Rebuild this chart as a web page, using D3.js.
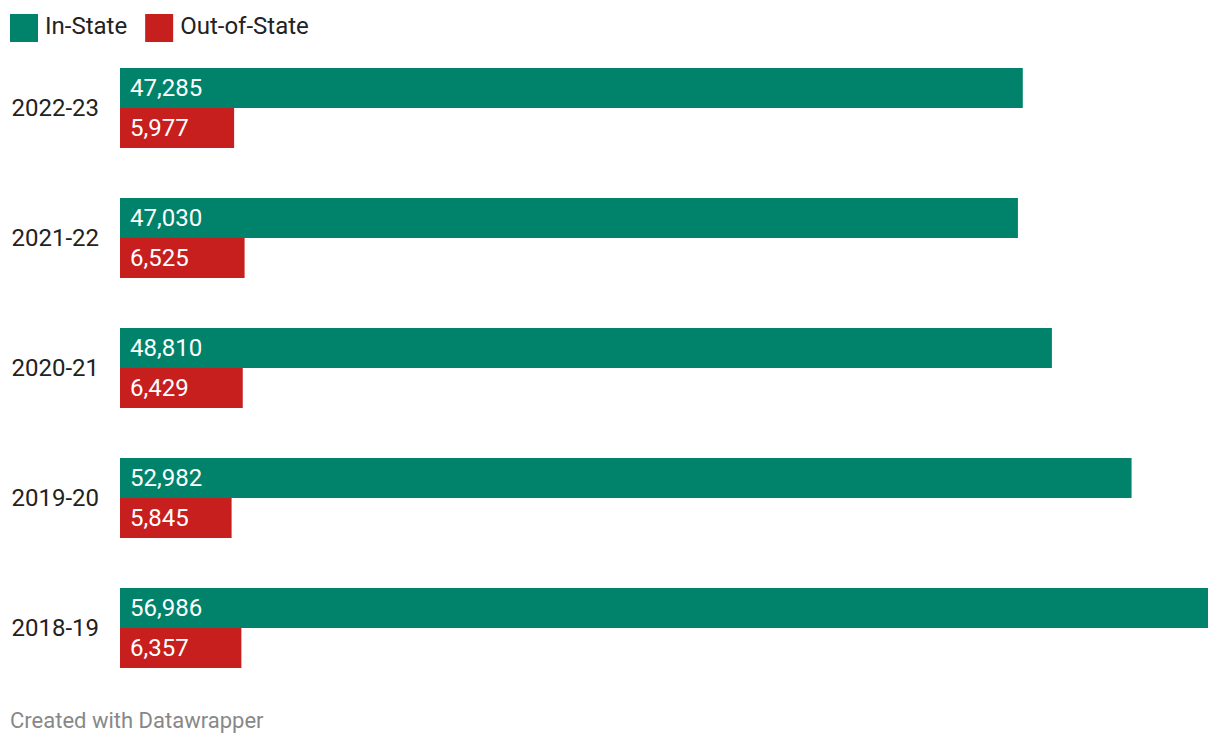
<!DOCTYPE html>
<html><head><meta charset="utf-8">
<script src="https://cdn.jsdelivr.net/npm/d3@7"></script>
<style>body{margin:0;background:#fff;font-family:Roboto,sans-serif;}</style>
</head><body>
<svg id="c" width="1220" height="746"></svg>
<script>
const years = ["2022-23","2021-22","2020-21","2019-20","2018-19"];
const inState = [47285,47030,48810,52982,56986];
const outState = [5977,6525,6429,5845,6357];
const seriesNames = ["In-State","Out-of-State"];
const colors = ["#00836a","#c71e1e"];

const svg = d3.select("#c");
const x = d3.scaleLinear().domain([0,56986]).range([120,1208]);
const y = d3.scaleBand().domain(years).range([68,718]).paddingInner(0).paddingOuter(0);
const sub = d3.scaleBand().domain(seriesNames).range([0,80]);
const fmt = d3.format(",");

// legend
const lg = svg.append("g");
let lx = 10;
seriesNames.forEach((n,i)=>{
  lg.append("rect").attr("x",lx).attr("y",14).attr("width",28).attr("height",28).attr("fill",colors[i]);
  const t = lg.append("text").attr("x",lx+35).attr("y",34).attr("font-size",24).attr("fill","#222").text(n);
  lx += 35 + t.node().getComputedTextLength() + 18;
});

const groups = svg.append("g").selectAll("g").data(years).join("g")
  .attr("transform",d=>`translate(0,${y(d)})`);
groups.append("text").attr("x",99).attr("y",48).attr("text-anchor","end")
  .attr("font-size",24).attr("fill","#222").text(d=>d);
[inState,outState].forEach((vals,si)=>{
  groups.append("rect").attr("x",x(0)).attr("y",sub(seriesNames[si]))
    .attr("width",(d,i)=>x(vals[i])-x(0)).attr("height",sub.bandwidth())
    .attr("fill",colors[si]);
  groups.append("text").attr("x",x(0)+10).attr("y",sub(seriesNames[si])+28)
    .attr("font-size",24).attr("fill","#fff").text((d,i)=>fmt(vals[i]));
});

svg.append("text").attr("x",10).attr("y",728).attr("font-size",22).attr("fill","#888").text("Created with Datawrapper");
</script>
</body></html>
